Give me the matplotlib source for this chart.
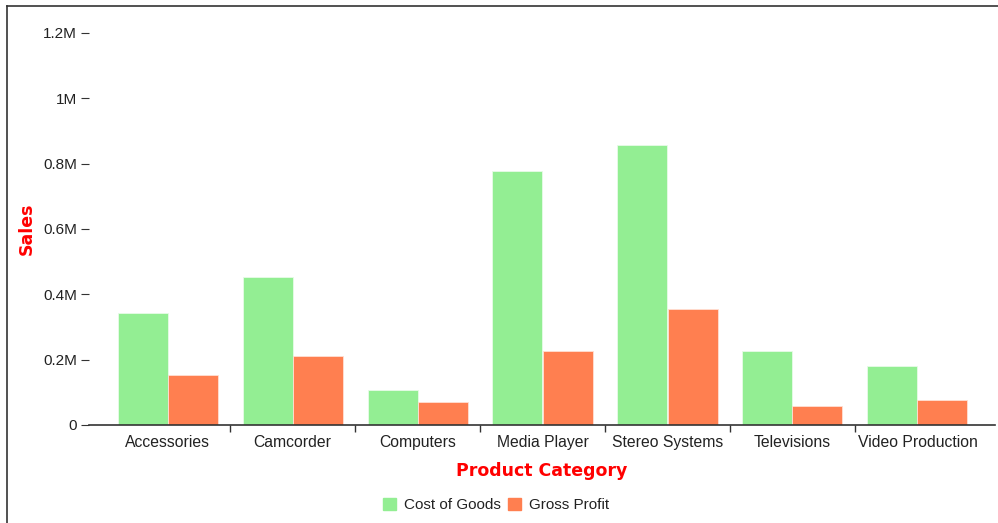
import numpy as np
import matplotlib.pyplot as plt
from matplotlib.lines import Line2D
from matplotlib.patches import Patch

categories = ['Accessories', 'Camcorder', 'Computers', 'Media Player',
              'Stereo Systems', 'Televisions', 'Video Production']
cost_of_goods = [342000, 453000, 106000, 778000, 857000, 227000, 180000]
gross_profit = [154000, 212000, 69000, 227000, 356000, 58000, 77000]
yticks = [0, 200000, 400000, 600000, 800000, 1000000, 1200000]
yticklabels = ['0', '0.2M', '0.4M', '0.6M', '0.8M', '1M', '1.2M']

plt.rcParams['font.family'] = ['Liberation Sans', 'DejaVu Sans']

W, H = 998, 523
fig = plt.figure(figsize=(W / 100, H / 100), dpi=100)

# plot area in pixel terms
left, right, top, bottom = 89, 995, 33, 425
ax = fig.add_axes([left / W, 1 - bottom / H, (right - left) / W, (bottom - top) / H])

x = np.arange(len(categories))
w = 0.4
green = '#93EE93'
orange = '#FF7F50'
ax.bar(x - w / 2, cost_of_goods, w, color=green, edgecolor='#e8fbe8', linewidth=0.6)
ax.bar(x + w / 2, gross_profit, w, color=orange, edgecolor='#ffe0d4', linewidth=0.6)

# category band 125px; center of first at ~167px
xl = (left - 167.5) / 125
xr = (right - 167.5) / 125
ax.set_xlim(xl, xr)
ax.set_ylim(0, 1200000)

for s in ['top', 'right', 'left']:
    ax.spines[s].set_visible(False)
ax.spines['bottom'].set_color('#333333')
ax.spines['bottom'].set_linewidth(1.2)

ax.set_xticks(x)
ax.set_xticklabels(categories, fontsize=11.3, color='#222222')
ax.set_xticks(x[:-1] + 0.5, minor=True)
ax.tick_params(axis='x', which='major', length=0, pad=7)
ax.tick_params(axis='x', which='minor', length=5, width=1, color='#333333')

ax.set_yticks(yticks)
ax.set_yticklabels(yticklabels, fontsize=11, color='#222222')
ax.tick_params(axis='y', length=6, width=0.8, color='#333333', pad=2.5)

ax.set_ylabel('Sales', color='red', fontsize=12.5, fontweight='bold',
              family='DejaVu Sans')
ax.set_xlabel('Product Category', color='red', fontsize=12.5, fontweight='bold',
              family='DejaVu Sans', labelpad=9)
ax.yaxis.set_label_coords((36 - left) / (right - left), 0.5)

handles = [Patch(facecolor=green, edgecolor=green, label='Cost of Goods'),
           Patch(facecolor=orange, edgecolor=orange, label='Gross Profit')]
fig.legend(handles=handles, loc='center', bbox_to_anchor=(496 / W, 1 - 505 / H),
           ncol=2, frameon=False, fontsize=11, handlelength=0.85, handleheight=0.85,
           handletextpad=0.5, columnspacing=0.5, labelcolor='#222222')

# outer frame (left and top only)
fig.add_artist(Line2D([7 / W, 7 / W], [0, 1 - 6 / H], color='#333333', lw=1.2))
fig.add_artist(Line2D([7 / W, 1], [1 - 6 / H, 1 - 6 / H], color='#333333', lw=1.2))

fig.savefig('out.png', dpi=100)
